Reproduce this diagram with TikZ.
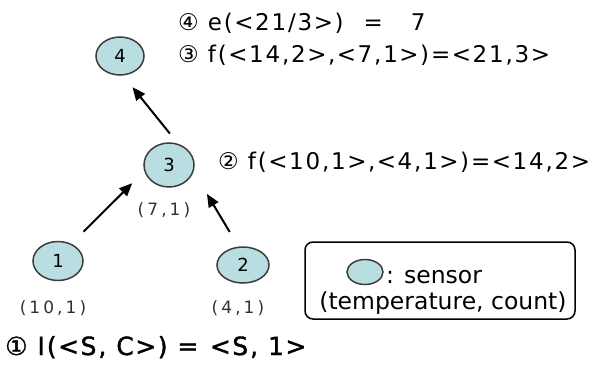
\documentclass[tikz,border=0pt]{standalone}
\usepackage{fontspec}
\setmainfont{DejaVu Sans}
\newfontfamily\fml[LetterSpace=8]{DejaVu Sans}
\newfontfamily\fmlb[LetterSpace=8,FakeBold=1.5]{DejaVu Sans}
\newfontfamily\lbl[LetterSpace=18]{DejaVu Sans}
\newcommand\lAng{\kern1.5pt<\kern1.5pt}
\newcommand\rAng{\kern1.5pt>\kern1.5pt}
\usetikzlibrary{arrows.meta,shapes.geometric}
\definecolor{sensorfill}{RGB}{185,222,225}
\definecolor{edgegray}{RGB}{60,60,60}
\definecolor{labelgray}{RGB}{50,50,50}
\begin{document}
\begin{tikzpicture}[x=1pt,y=-1pt,
 sensor/.style={ellipse, draw=edgegray, line width=1.5pt, fill=sensorfill, inner sep=0pt, font=\fontsize{18}{18}\selectfont},
 formula/.style={anchor=base west, inner sep=0pt, font=\fml\fontsize{23}{23}\selectfont},
 vlabel/.style={anchor=base, inner sep=0pt, text=labelgray, font=\lbl\fontsize{17}{17}\selectfont},
 legtext/.style={inner sep=0pt, font=\fontsize{23.5}{23.5}\selectfont},
 arr/.style={line width=2pt, -{Triangle[length=13pt,width=11pt]}}]
\useasboundingbox (0,0) rectangle (605,365);
% sensors
\node[sensor, minimum width=48pt, minimum height=38pt] (n4) at (120,56) {4};
\node[sensor, minimum width=50pt, minimum height=44pt] (n3) at (169,165) {3};
\node[sensor, minimum width=50pt, minimum height=39pt] (n1) at (58,261) {1};
\node[sensor, minimum width=52pt, minimum height=36pt] (n2) at (243,265) {2};
% connectors
\draw[arr, shorten <=13pt, shorten >=15pt] (n3.67) -- (n4.-81);
\draw[arr, shorten <=17pt, shorten >=17pt] (n1.52) -- (n3.-166);
\draw[arr, shorten <=17pt, shorten >=26pt] (n2.104) -- (n3.-15);
% value labels
\node[vlabel] (l1) at (53,313) {(10,1)};
\node[vlabel] (l2) at (238,313) {(4,1)};
\node[vlabel] (l3) at (164,215) {(7,1)};
% formulas
\node[formula] (f4) at (178,30) {④ e(\lAng21/3\rAng)\hspace{20pt}=\hspace{28pt}7};
\node[formula] (f3) at (178,62) {③ f(\lAng14,2\rAng,\lAng7,1\rAng)=\lAng21,3\rAng};
\node[formula] (f2) at (218,169) {② f(\lAng10,1\rAng,\lAng4,1\rAng)=\lAng14,2\rAng};
\node[formula, font=\fmlb\fontsize{25}{25}\selectfont] (f1) at (5,355) {① I(\lAng S, C\rAng) = \lAng S, 1\rAng};
% legend
\node[draw=black, line width=1.5pt, rounded corners=8pt, minimum width=270pt, minimum height=77pt, inner sep=0pt] (legend) at (440,280.5) {};
\node[sensor, minimum width=36pt, minimum height=25pt] (lege) at (365,272) {};
\node[legtext, anchor=base west] (legt) at (386,283) {: sensor};
\node[legtext, anchor=base] (legt2) at (443,309) {(temperature, count)};
\end{tikzpicture}
\end{document}
